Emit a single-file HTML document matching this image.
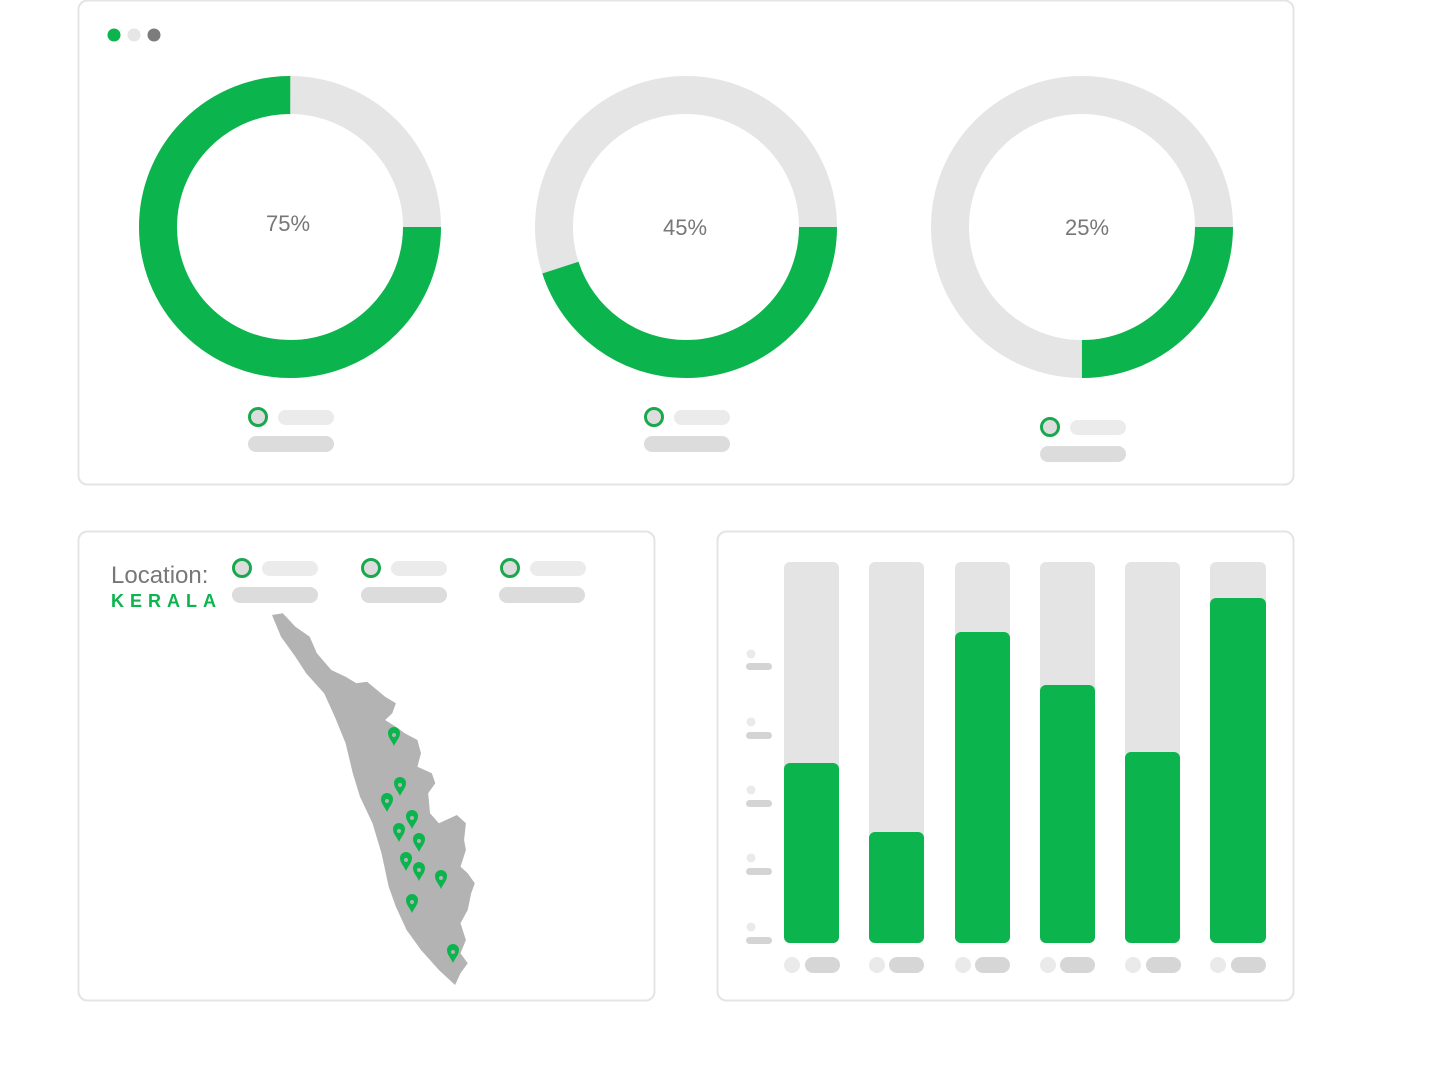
<!DOCTYPE html>
<html><head><style>
body{margin:0;background:#fff;width:1436px;height:1080px;overflow:hidden;font-family:"Liberation Sans",sans-serif}
</style></head><body>
<svg width="1436" height="1080" xmlns="http://www.w3.org/2000/svg">
<rect x="78.5" y="0.5" width="1215" height="484" rx="9" fill="#fff" stroke="#e4e4e4" stroke-width="2"/>
<rect x="78.5" y="531.5" width="576" height="469" rx="9" fill="#fff" stroke="#e4e4e4" stroke-width="2"/>
<rect x="717.5" y="531.5" width="576" height="469" rx="9" fill="#fff" stroke="#e4e4e4" stroke-width="2"/>
<circle cx="114" cy="35" r="6.5" fill="#0bb44d"/>
<circle cx="134" cy="35" r="6.5" fill="#e6e6e6"/>
<circle cx="154" cy="35" r="6.5" fill="#7c7c7c"/>
<g fill="none" stroke-width="38">
<circle cx="290" cy="227" r="132" stroke="#e5e5e5"/>
<circle cx="290" cy="227" r="132" stroke="#0bb44d" stroke-dasharray="622.04 1000"/>
<circle cx="686" cy="227" r="132" stroke="#e5e5e5"/>
<circle cx="686" cy="227" r="132" stroke="#0bb44d" stroke-dasharray="373.2 1000"/>
<circle cx="1082" cy="227" r="132" stroke="#e5e5e5"/>
<circle cx="1082" cy="227" r="132" stroke="#0bb44d" stroke-dasharray="207.3 1000"/>
</g>
<g font-size="22" fill="#777" text-anchor="middle">
<text x="288" y="231">75%</text><text x="685" y="235">45%</text><text x="1087" y="235">25%</text>
</g>
<g>
<circle cx="258" cy="417" r="8.5" fill="#ddd" stroke="#1aa84f" stroke-width="3"/>
<rect x="278" y="410" width="56" height="15" rx="7.5" fill="#ebebeb"/>
<rect x="248" y="436" width="86" height="16" rx="8" fill="#dcdcdc"/>
<circle cx="654" cy="417" r="8.5" fill="#ddd" stroke="#1aa84f" stroke-width="3"/>
<rect x="674" y="410" width="56" height="15" rx="7.5" fill="#ebebeb"/>
<rect x="644" y="436" width="86" height="16" rx="8" fill="#dcdcdc"/>
<circle cx="1050" cy="427" r="8.5" fill="#ddd" stroke="#1aa84f" stroke-width="3"/>
<rect x="1070" y="420" width="56" height="15" rx="7.5" fill="#ebebeb"/>
<rect x="1040" y="446" width="86" height="16" rx="8" fill="#dcdcdc"/>
</g>
<text x="111" y="583" font-size="24" fill="#777">Location:</text>
<text x="111" y="607" font-size="18" font-weight="bold" fill="#0bb44d" textLength="105" lengthAdjust="spacing">KERALA</text>
<g>
<circle cx="242" cy="568" r="8.5" fill="#ddd" stroke="#1aa84f" stroke-width="3"/>
<rect x="262" y="561" width="56" height="15" rx="7.5" fill="#ebebeb"/>
<rect x="232" y="587" width="86" height="16" rx="8" fill="#dcdcdc"/>
<circle cx="371" cy="568" r="8.5" fill="#ddd" stroke="#1aa84f" stroke-width="3"/>
<rect x="391" y="561" width="56" height="15" rx="7.5" fill="#ebebeb"/>
<rect x="361" y="587" width="86" height="16" rx="8" fill="#dcdcdc"/>
<circle cx="510" cy="568" r="8.5" fill="#ddd" stroke="#1aa84f" stroke-width="3"/>
<rect x="530" y="561" width="56" height="15" rx="7.5" fill="#ebebeb"/>
<rect x="499" y="587" width="86" height="16" rx="8" fill="#dcdcdc"/>
</g>
<polygon fill="#b3b3b3" points="272,615 282.8,613.3 295.4,626.7 309.7,636.7 316.9,653.3 331.3,670 345.6,676.7 356.4,683.3 367.1,681.7 385.1,696.7 395.9,703.3 392.3,713.3 385.1,720 395.9,726.7 404.8,733.3 417.4,740 421,753.3 417.4,766.7 431.8,773.3 435.3,783.3 428.2,793.3 430,813.3 438.9,823.3 456.9,815 465.9,823.3 464.1,840 465.9,850 460.5,866.7 467.7,873.3 474.8,883.3 471.2,893.3 467.7,910 460.5,923.3 465.9,940 460.5,953.3 467.7,963.3 460.5,973.3 455.1,985 438.9,970 421,950 406.6,930 395.9,906.7 388.7,886.7 381.5,853.3 372.5,823.3 360,796.7 352.8,773.3 345.6,743.3 334.8,716.7 324.1,693.3 306.1,673.3 295.4,656.7 281,636.7"/>
<g fill="#0bb44d">
<path d="M0,9 C-2,4 -6,1 -6,-4 A6,6 0 1 1 6,-4 C6,1 2,4 0,9Z" transform="translate(394,737)"/>
<path d="M0,9 C-2,4 -6,1 -6,-4 A6,6 0 1 1 6,-4 C6,1 2,4 0,9Z" transform="translate(400,787)"/>
<path d="M0,9 C-2,4 -6,1 -6,-4 A6,6 0 1 1 6,-4 C6,1 2,4 0,9Z" transform="translate(387,803)"/>
<path d="M0,9 C-2,4 -6,1 -6,-4 A6,6 0 1 1 6,-4 C6,1 2,4 0,9Z" transform="translate(412,820)"/>
<path d="M0,9 C-2,4 -6,1 -6,-4 A6,6 0 1 1 6,-4 C6,1 2,4 0,9Z" transform="translate(399,833)"/>
<path d="M0,9 C-2,4 -6,1 -6,-4 A6,6 0 1 1 6,-4 C6,1 2,4 0,9Z" transform="translate(419,843)"/>
<path d="M0,9 C-2,4 -6,1 -6,-4 A6,6 0 1 1 6,-4 C6,1 2,4 0,9Z" transform="translate(406,862)"/>
<path d="M0,9 C-2,4 -6,1 -6,-4 A6,6 0 1 1 6,-4 C6,1 2,4 0,9Z" transform="translate(419,872)"/>
<path d="M0,9 C-2,4 -6,1 -6,-4 A6,6 0 1 1 6,-4 C6,1 2,4 0,9Z" transform="translate(441,880)"/>
<path d="M0,9 C-2,4 -6,1 -6,-4 A6,6 0 1 1 6,-4 C6,1 2,4 0,9Z" transform="translate(412,904)"/>
<path d="M0,9 C-2,4 -6,1 -6,-4 A6,6 0 1 1 6,-4 C6,1 2,4 0,9Z" transform="translate(453,954)"/>
</g>
<g fill="#b3b3b3">
<circle cx="394" cy="735" r="2"/><circle cx="400" cy="785" r="2"/><circle cx="387" cy="801" r="2"/><circle cx="412" cy="818" r="2"/><circle cx="399" cy="831" r="2"/><circle cx="419" cy="841" r="2"/><circle cx="406" cy="860" r="2"/><circle cx="419" cy="870" r="2"/><circle cx="441" cy="878" r="2"/><circle cx="412" cy="902" r="2"/><circle cx="453" cy="952" r="2"/>
</g>
<g fill="#e4e4e4">
<rect x="784" y="562" width="55" height="381" rx="6"/>
<rect x="869" y="562" width="55" height="381" rx="6"/>
<rect x="955" y="562" width="55" height="381" rx="6"/>
<rect x="1040" y="562" width="55" height="381" rx="6"/>
<rect x="1125" y="562" width="55" height="381" rx="6"/>
<rect x="1210" y="562" width="56" height="381" rx="6"/>
</g>
<g fill="#0bb44d">
<rect x="784" y="763" width="55" height="180" rx="6"/>
<rect x="869" y="832" width="55" height="111" rx="6"/>
<rect x="955" y="632" width="55" height="311" rx="6"/>
<rect x="1040" y="685" width="55" height="258" rx="6"/>
<rect x="1125" y="752" width="55" height="191" rx="6"/>
<rect x="1210" y="598" width="56" height="345" rx="6"/>
</g>
<g fill="#eaeaea">
<circle cx="751" cy="654" r="4.5"/><circle cx="751" cy="722" r="4.5"/><circle cx="751" cy="790" r="4.5"/><circle cx="751" cy="858" r="4.5"/><circle cx="751" cy="927" r="4.5"/>
</g>
<g fill="#d4d4d4">
<rect x="746" y="663" width="26" height="7" rx="3.5"/><rect x="746" y="732" width="26" height="7" rx="3.5"/><rect x="746" y="800" width="26" height="7" rx="3.5"/><rect x="746" y="868" width="26" height="7" rx="3.5"/><rect x="746" y="937" width="26" height="7" rx="3.5"/>
</g>
<g fill="#eaeaea">
<circle cx="792" cy="965" r="8"/><circle cx="877" cy="965" r="8"/><circle cx="963" cy="965" r="8"/><circle cx="1048" cy="965" r="8"/><circle cx="1133" cy="965" r="8"/><circle cx="1218" cy="965" r="8"/>
</g>
<g fill="#d6d6d6">
<rect x="805" y="957" width="35" height="16" rx="8"/><rect x="889" y="957" width="35" height="16" rx="8"/><rect x="975" y="957" width="35" height="16" rx="8"/><rect x="1060" y="957" width="35" height="16" rx="8"/><rect x="1146" y="957" width="35" height="16" rx="8"/><rect x="1231" y="957" width="35" height="16" rx="8"/>
</g>
</svg>
</body></html>
